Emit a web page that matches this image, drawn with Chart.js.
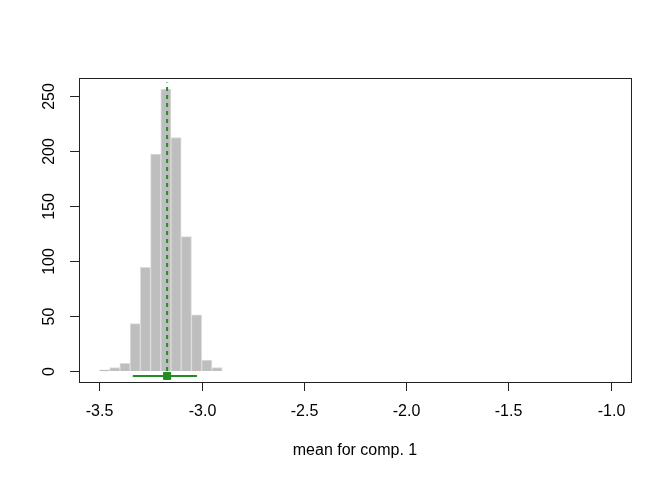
<!DOCTYPE html>
<html>
<head>
<meta charset="utf-8">
<script src="https://cdn.jsdelivr.net/npm/chart.js@4"></script>
<style>
body { margin: 0; background: #fff; }
</style>
</head>
<body>
<canvas id="hist" width="672" height="480"></canvas>
<script>
// histogram of the posterior mean, bins of 0.05
const binMids = [-3.475, -3.425, -3.375, -3.325, -3.275, -3.225, -3.175, -3.125, -3.075, -3.025, -2.975, -2.925];
const counts = [1, 3, 7, 43, 94, 197, 256, 212, 122, 51, 10, 3];

// point estimate and interval
const meanVal = -3.169;
const meanTop = 262;
const intervalLo = -3.337;
const intervalHi = -3.023;
const intervalY = -4.5;

const xTicks = [-3.5, -3.0, -2.5, -2.0, -1.5, -1.0];
const xTickLabels = ['-3.5', '-3.0', '-2.5', '-2.0', '-1.5', '-1.0'];
const yTicks = [0, 50, 100, 150, 200, 250];
const xTitle = 'mean for comp. 1';

const GREEN = '#228B22';
const FONT = '16px "Liberation Sans", Arial, sans-serif';

// R style box + axes, drawn with the chart's own scales
const rAxes = {
    id: 'rAxes',
    afterDraw(chart) {
        const ctx = chart.ctx;
        const a = chart.chartArea;
        const xs = chart.scales.x;
        const ys = chart.scales.y;
        ctx.save();
        ctx.strokeStyle = '#222';
        ctx.lineWidth = 1;
        ctx.strokeRect(a.left + 0.5, a.top + 0.5, a.right - a.left, a.bottom - a.top);

        ctx.fillStyle = '#000';
        ctx.font = FONT;
        ctx.textAlign = 'center';
        ctx.textBaseline = 'middle';
        xTicks.forEach((v, i) => {
            const px = Math.round(xs.getPixelForValue(v)) + 0.5;
            ctx.beginPath();
            ctx.moveTo(px, a.bottom);
            ctx.lineTo(px, a.bottom + 9);
            ctx.stroke();
            ctx.fillText(xTickLabels[i], px, a.bottom + 30);
        });
        yTicks.forEach(v => {
            const py = Math.round(ys.getPixelForValue(v)) + 0.5;
            ctx.beginPath();
            ctx.moveTo(a.left, py);
            ctx.lineTo(a.left - 9, py);
            ctx.stroke();
            ctx.save();
            ctx.translate(a.left - 29, py);
            ctx.rotate(-Math.PI / 2);
            ctx.fillText(String(v), 0, 0);
            ctx.restore();
        });
        ctx.fillText(xTitle, (a.left + a.right) / 2, a.bottom + 69);
        ctx.restore();
    }
};

const config = {
    type: 'bar',
    data: {
        datasets: [{
            type: 'bar',
            data: binMids.map((m, i) => ({ x: m, y: counts[i] })),
            backgroundColor: '#BEBEBE',
            borderColor: '#DCDCDC',
            borderWidth: 1,
            barPercentage: 1,
            categoryPercentage: 1,
            order: 3
        }, {
            type: 'line',
            data: [{ x: meanVal, y: 0 }, { x: meanVal, y: meanTop }],
            borderColor: GREEN,
            borderWidth: 2,
            borderDash: [4, 4],
            pointRadius: 0,
            order: 1
        }, {
            type: 'line',
            data: [{ x: intervalLo, y: intervalY }, { x: intervalHi, y: intervalY }],
            borderColor: GREEN,
            borderWidth: 2,
            pointRadius: 0,
            order: 1
        }, {
            type: 'scatter',
            data: [{ x: meanVal, y: intervalY }],
            backgroundColor: GREEN,
            borderColor: GREEN,
            pointStyle: 'rect',
            pointRadius: 5,
            order: 0
        }]
    },
    options: {
        responsive: false,
        animation: false,
        layout: { padding: { left: 79, right: 41, top: 78, bottom: 98 } },
        plugins: { legend: { display: false }, tooltip: { enabled: false } },
        scales: {
            x: { type: 'linear', min: -3.6, max: -0.9, offset: false, display: false },
            y: { type: 'linear', min: -10, max: 266, display: false }
        }
    },
    plugins: [rAxes]
};

new Chart(document.getElementById('hist'), config);
</script>
</body>
</html>
